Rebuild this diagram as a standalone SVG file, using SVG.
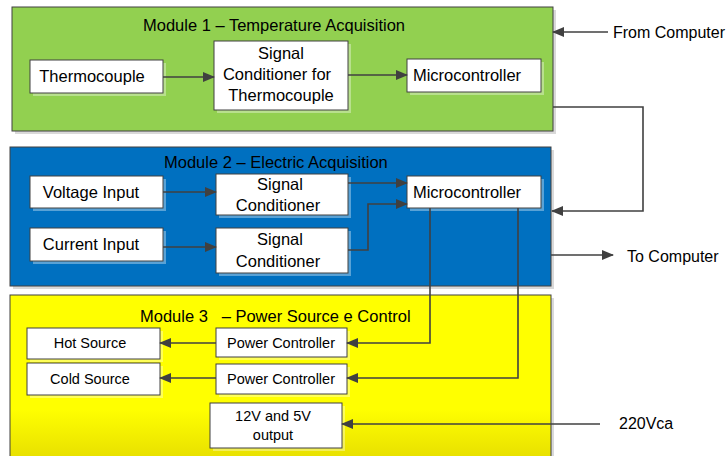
<svg xmlns="http://www.w3.org/2000/svg" width="727" height="456" viewBox="0 0 727 456">
<defs>
<style>
text{font-family:"Liberation Sans",Arial,sans-serif;fill:#000}
.t{font-size:16.5px}
.l{font-size:16px}
.n{font-size:16.5px;text-anchor:middle}
.s{font-size:14.5px;text-anchor:middle}
.box{fill:#fff;stroke:#404040;stroke-width:1}
.msh{fill:#d9d9d9}
.nsh{fill:#fff;fill-opacity:0.35}
.mod{stroke:#404040;stroke-width:1}
.c{fill:none;stroke:#404040;stroke-width:1.6}
</style>
<marker id="ah" markerWidth="12" markerHeight="10" refX="11" refY="5" orient="auto" markerUnits="userSpaceOnUse">
<path d="M0,0 L12,5 L0,10 Z" fill="#404040"/>
</marker>
<linearGradient id="yg" x1="0" y1="0" x2="0" y2="1">
<stop offset="0" stop-color="#ffff00"/>
<stop offset="0.7" stop-color="#ffff00"/>
<stop offset="1" stop-color="#e8e000"/>
</linearGradient>
</defs>
<rect width="727" height="456" fill="#fff"/>

<g id="module1">
<rect class="msh" x="15" y="10" width="541" height="124"/>
<rect class="mod" x="12" y="7" width="541" height="124" fill="#92d050"/>
<text class="t" x="143" y="31">Module 1 – Temperature Acquisition</text>
</g>
<g id="module2">
<rect class="msh" x="13" y="150" width="541" height="139"/>
<rect class="mod" x="10" y="147" width="541" height="139" fill="#0070c0"/>
<text class="t" x="164" y="168">Module 2 – Electric Acquisition</text>
</g>
<g id="module3">
<rect class="msh" x="13" y="298" width="541" height="160"/>
<rect class="mod" x="10" y="295" width="541" height="163" fill="url(#yg)"/>
<text class="t" x="140" y="322" xml:space="preserve">Module 3   – Power Source e Control</text>
</g>

<g id="thermocouple">
<rect class="nsh" x="33" y="63" width="133" height="33"/>
<rect class="box" x="30" y="60" width="133" height="33"/>
<text class="n" x="92" y="82">Thermocouple</text>
</g>
<g id="signal-cond-thermo">
<rect class="nsh" x="217" y="44" width="134" height="69"/>
<rect class="box" x="214" y="41" width="134" height="69"/>
<text class="n" x="281" y="59">Signal</text>
<text class="n" x="277" y="80">Conditioner for</text>
<text class="n" x="281" y="101">Thermocouple</text>
</g>
<g id="micro1">
<rect class="nsh" x="410" y="62" width="134" height="33"/>
<rect class="box" x="407" y="59" width="134" height="33"/>
<text class="n" x="467" y="81">Microcontroller</text>
</g>

<g id="voltage-input">
<rect class="nsh" x="33" y="179" width="133" height="32"/>
<rect class="box" x="30" y="176" width="133" height="32"/>
<text class="n" x="91" y="198">Voltage Input</text>
</g>
<g id="signal-cond-1">
<rect class="nsh" x="219" y="177" width="132" height="41"/>
<rect class="box" x="216" y="174" width="132" height="41"/>
<text class="n" x="280" y="190">Signal</text>
<text class="n" x="278" y="211">Conditioner</text>
</g>
<g id="current-input">
<rect class="nsh" x="33" y="231" width="133" height="33"/>
<rect class="box" x="30" y="228" width="133" height="33"/>
<text class="n" x="91" y="250">Current Input</text>
</g>
<g id="signal-cond-2">
<rect class="nsh" x="219" y="231" width="132" height="45"/>
<rect class="box" x="216" y="228" width="132" height="45"/>
<text class="n" x="280" y="245">Signal</text>
<text class="n" x="278" y="267">Conditioner</text>
</g>
<g id="micro2">
<rect class="nsh" x="410" y="179" width="134" height="32"/>
<rect class="box" x="407" y="176" width="134" height="32"/>
<text class="n" x="467" y="198">Microcontroller</text>
</g>

<g id="hot-source">
<rect class="nsh" x="30" y="331" width="133" height="31"/>
<rect class="box" x="27" y="328" width="133" height="31"/>
<text class="s" x="90" y="348">Hot Source</text>
</g>
<g id="power-ctrl-1">
<rect class="nsh" x="219" y="331" width="131" height="29"/>
<rect class="box" x="216" y="328" width="131" height="29"/>
<text class="s" x="281" y="348">Power Controller</text>
</g>
<g id="cold-source">
<rect class="nsh" x="30" y="366" width="133" height="32"/>
<rect class="box" x="27" y="363" width="133" height="32"/>
<text class="s" x="90" y="384">Cold Source</text>
</g>
<g id="power-ctrl-2">
<rect class="nsh" x="219" y="367" width="131" height="30"/>
<rect class="box" x="216" y="364" width="131" height="30"/>
<text class="s" x="281" y="384">Power Controller</text>
</g>
<g id="psu-output">
<rect class="nsh" x="213" y="406" width="132" height="45"/>
<rect class="box" x="210" y="403" width="132" height="45"/>
<text class="s" x="273" y="421">12V and 5V</text>
<text class="s" x="273" y="440">output</text>
</g>

<g id="labels">
<text class="l" x="613" y="38">From Computer</text>
<text class="l" x="627" y="262">To Computer</text>
<text class="l" x="619" y="429">220Vca</text>
</g>

<g id="connectors">
<path class="c" d="M163,77 H214" marker-end="url(#ah)"/>
<path class="c" d="M348,75 H407" marker-end="url(#ah)"/>
<path class="c" d="M608,32 H553" marker-end="url(#ah)"/>
<path class="c" d="M553,107 H643 V211 H552" marker-end="url(#ah)"/>
<path class="c" d="M163,192 H216" marker-end="url(#ah)"/>
<path class="c" d="M163,247 H216" marker-end="url(#ah)"/>
<path class="c" d="M348,183 H407" marker-end="url(#ah)"/>
<path class="c" d="M348,250 H368 V204 H407" marker-end="url(#ah)"/>
<path class="c" d="M551,255 H613" marker-end="url(#ah)"/>
<path class="c" d="M430,208 V343 H347" marker-end="url(#ah)"/>
<path class="c" d="M518,208 V378 H347" marker-end="url(#ah)"/>
<path class="c" d="M216,343 H160" marker-end="url(#ah)"/>
<path class="c" d="M216,378 H160" marker-end="url(#ah)"/>
<path class="c" d="M600,424 H342" marker-end="url(#ah)"/>
</g>
</svg>
